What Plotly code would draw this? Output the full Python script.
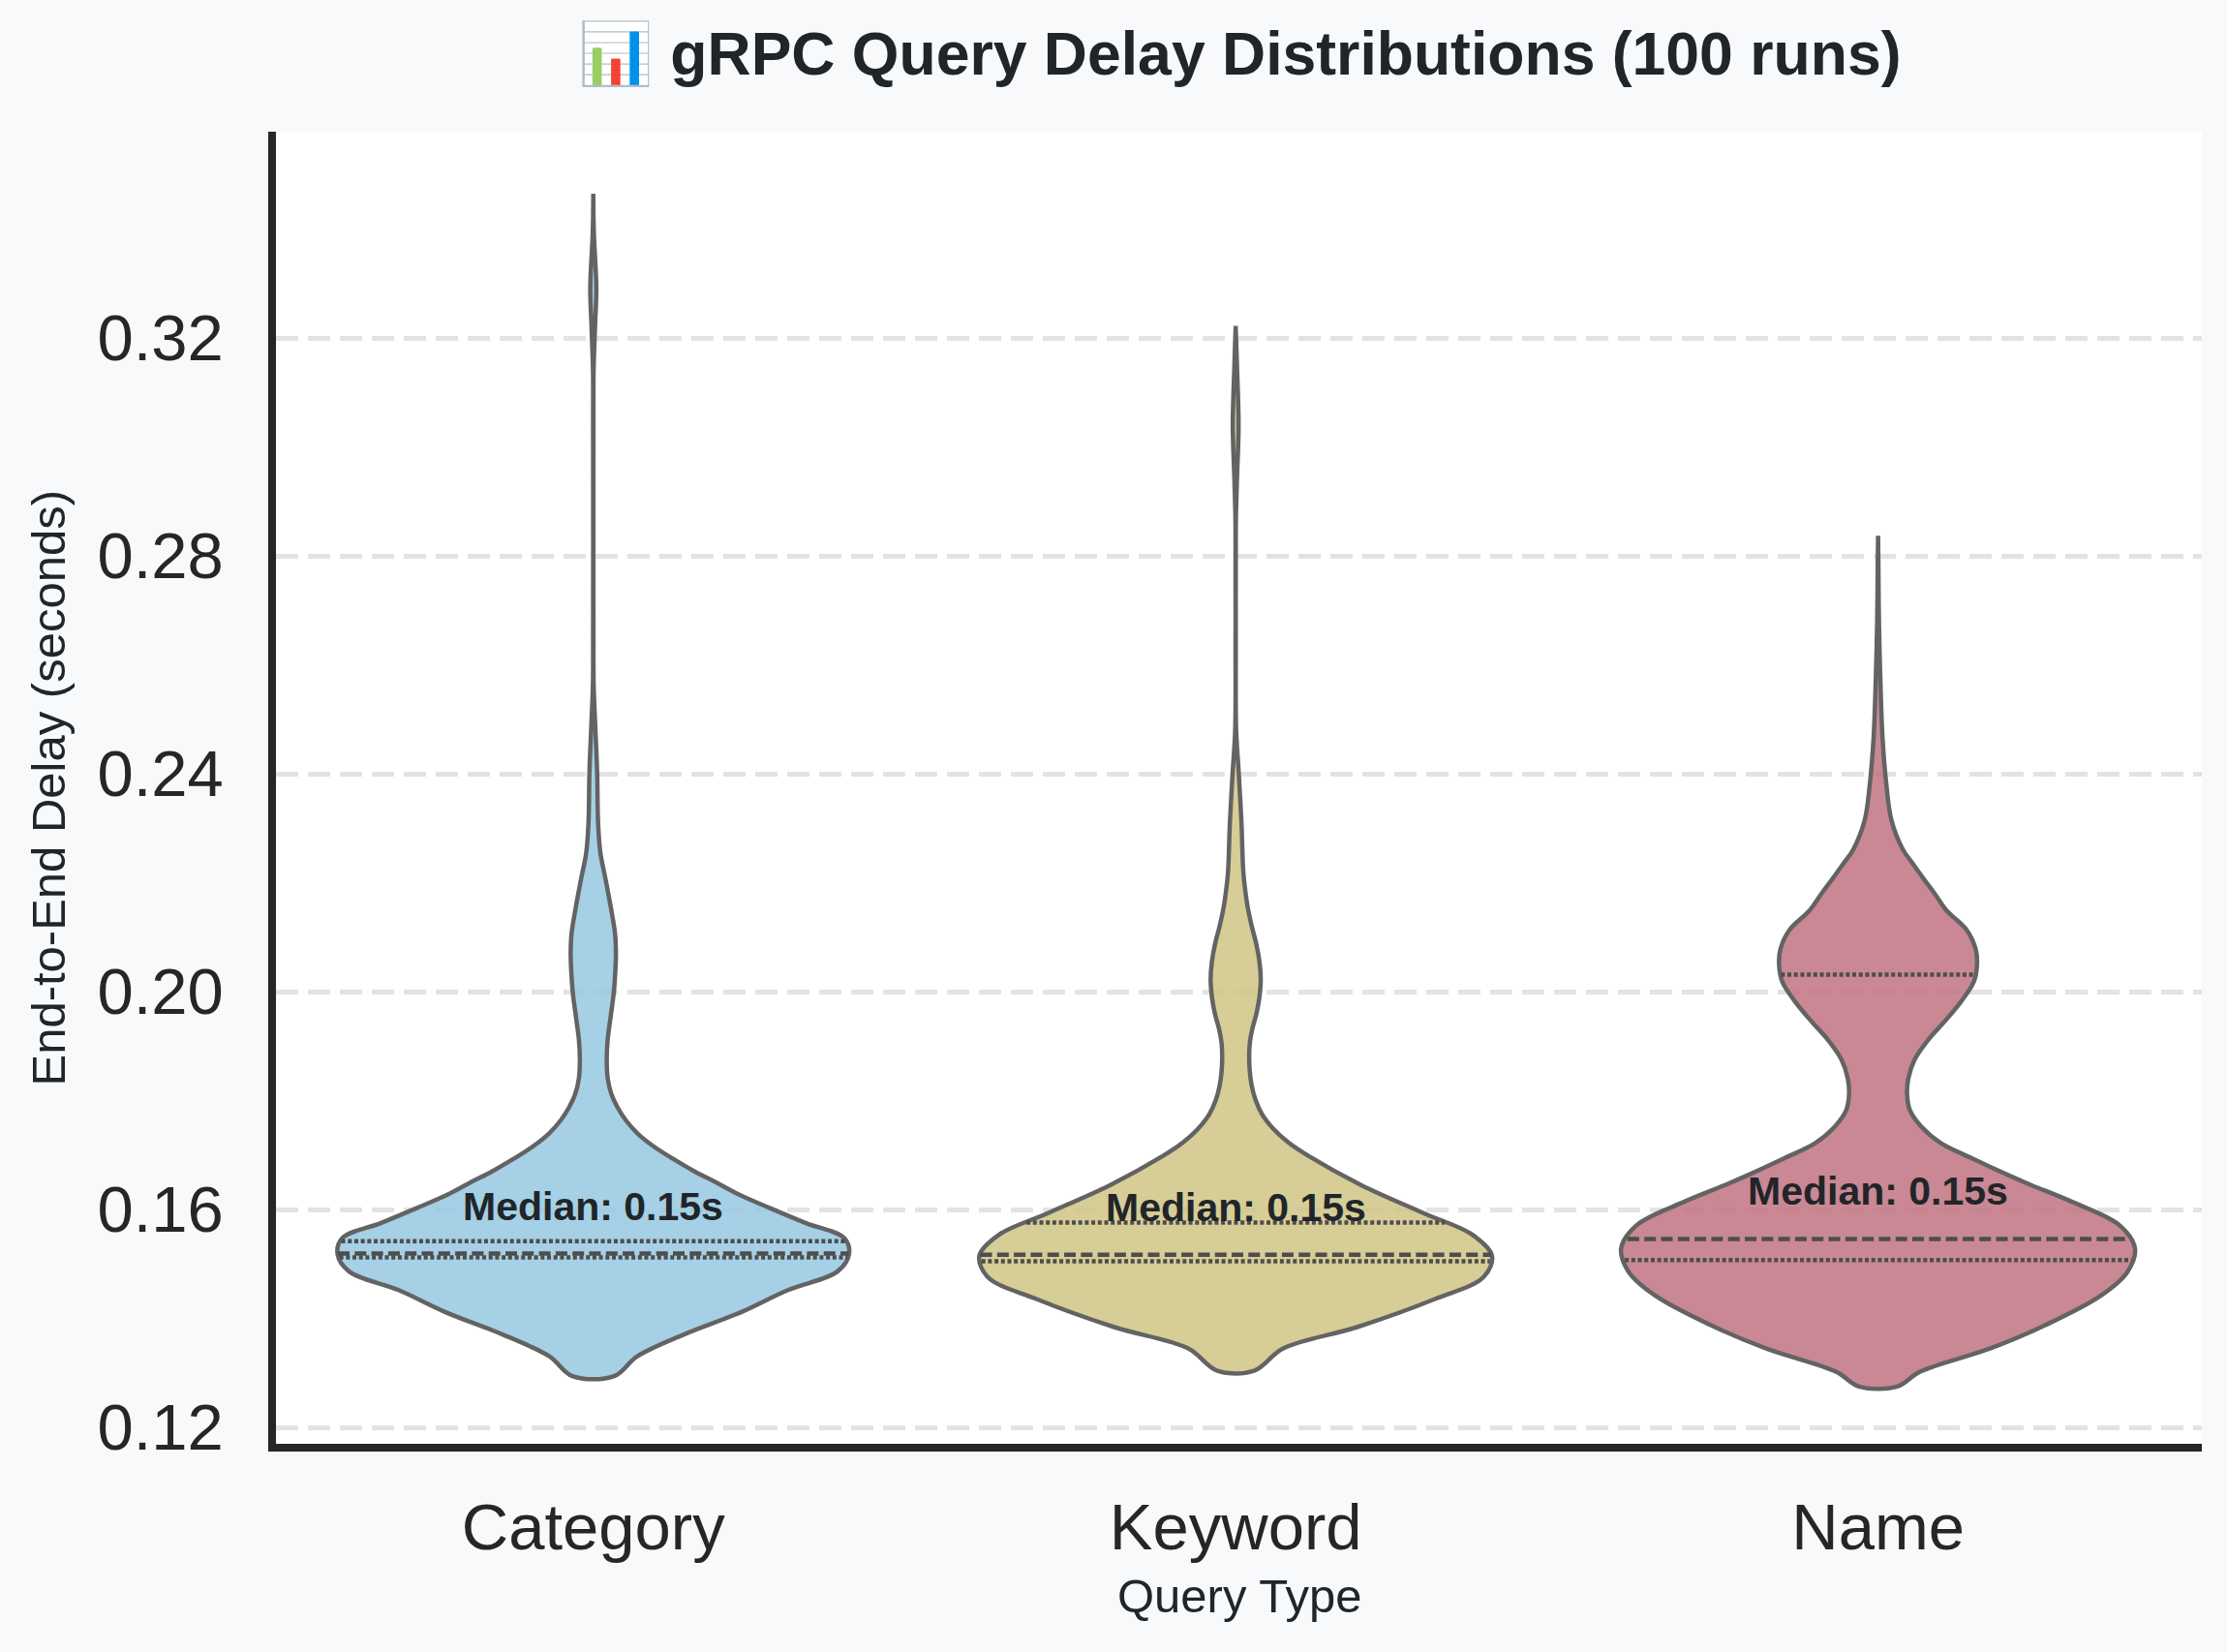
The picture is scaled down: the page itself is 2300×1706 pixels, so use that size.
import numpy as np
import plotly.graph_objects as go

# ---------------- data ----------------
categories = ["Category", "Keyword", "Name"]

# violin outlines: delay value (s) and half-width (category-axis units)
category_delay = [0.1294, 0.1330, 0.1371, 0.1411, 0.1452, 0.1486, 0.1517, 0.1547,
                  0.1575, 0.1602, 0.1629, 0.1651, 0.1669, 0.1693, 0.1716, 0.1740,
                  0.1764, 0.1788, 0.1811, 0.1841, 0.1876, 0.1912, 0.1953, 0.1998,
                  0.2042, 0.2070, 0.2105, 0.2153, 0.2207, 0.2255, 0.2309, 0.2403,
                  0.2482, 0.2562, 0.2641, 0.2760, 0.2918, 0.3038, 0.3141, 0.3220,
                  0.3292, 0.3395, 0.3465]
category_halfwidth = [0.0325, 0.068, 0.142, 0.229, 0.303, 0.380, 0.398, 0.391,
                      0.331, 0.276, 0.224, 0.189, 0.159, 0.124, 0.0937, 0.0686,
                      0.0505, 0.0375, 0.0284, 0.0224, 0.0209, 0.0224, 0.0269, 0.0319,
                      0.0345, 0.0352, 0.0340, 0.0275, 0.019, 0.011, 0.0075, 0.006,
                      0.0033, 0.0006, 0.0003, 0.0002, 0.0002, 0.0003, 0.0005, 0.0027,
                      0.0047, 0.0008, 0.0]

keyword_delay = [0.1304, 0.1345, 0.1384, 0.1436, 0.1476, 0.1515, 0.1554, 0.1593,
                 0.1645, 0.1697, 0.1723, 0.1749, 0.1775, 0.1801, 0.1827, 0.1853,
                 0.1880, 0.1906, 0.1932, 0.1958, 0.1990, 0.2023, 0.2055, 0.2088,
                 0.2120, 0.2153, 0.2185, 0.2218, 0.2310, 0.2401, 0.2479, 0.2635,
                 0.2800, 0.2870, 0.2940, 0.3039, 0.3150, 0.3222]
keyword_halfwidth = [0.0285, 0.074, 0.189, 0.311, 0.386, 0.399, 0.368, 0.293,
                     0.195, 0.115, 0.082, 0.058, 0.041, 0.031, 0.025, 0.022,
                     0.021, 0.022, 0.026, 0.032, 0.037, 0.039, 0.037, 0.032,
                     0.025, 0.019, 0.015, 0.012, 0.009, 0.0048, 0.0008, 0.0002,
                     0.0002, 0.0004, 0.002, 0.0045, 0.002, 0.0]

name_delay = [0.1275, 0.1302, 0.1345, 0.1388, 0.1442, 0.1485, 0.1528, 0.1571,
              0.1614, 0.1645, 0.1663, 0.1693, 0.1722, 0.1752, 0.1782, 0.1811,
              0.1841, 0.1876, 0.1912, 0.1947, 0.1983, 0.2018, 0.2048, 0.2078,
              0.2113, 0.2149, 0.2180, 0.2207, 0.2235, 0.2260, 0.2314, 0.2379,
              0.2465, 0.2573, 0.2680, 0.2788, 0.2837]
name_halfwidth = [0.0296, 0.065, 0.175, 0.261, 0.347, 0.388, 0.400, 0.376,
                  0.302, 0.238, 0.203, 0.148, 0.0975, 0.0674, 0.0497, 0.0452,
                  0.0472, 0.0573, 0.0784, 0.105, 0.130, 0.149, 0.154, 0.152,
                  0.138, 0.1066, 0.088, 0.071, 0.054, 0.039, 0.021, 0.013,
                  0.007, 0.0036, 0.0014, 0.0005, 0.0]

q1_values = [0.1512, 0.1505, 0.1507]
median_values = [0.1519, 0.1517, 0.1546]
q3_values = [0.1542, 0.1576, 0.2031]

y_ticks = [0.12, 0.16, 0.20, 0.24, 0.28, 0.32]

# ---------------- styles ----------------
fill_colors = ["rgba(149,200,225,0.85)", "rgba(208,196,132,0.85)", "rgba(191,115,128,0.85)"]
outline_color = "#636363"
inner_color = "#4d4d4d"
text_dark = "#212529"
font_family = "Liberation Sans, Arial, sans-serif"

W, H = 2300, 1706
L, R, T, B = 285, 26, 136, 215
plot_w = W - L - R
plot_h = H - T - B


def paper_x(px):
    return (px - L) / plot_w


def paper_y(py):
    return (H - B - py) / plot_h


fig = go.Figure()

outlines = [(category_delay, category_halfwidth),
            (keyword_delay, keyword_halfwidth),
            (name_delay, name_halfwidth)]

for i, (dl, hw) in enumerate(outlines):
    dl = np.asarray(dl)
    hw = np.asarray(hw)
    xs = np.concatenate([i - hw, (i + hw)[::-1], [i - hw[0]]])
    ys = np.concatenate([dl, dl[::-1], [dl[0]]])
    fig.add_trace(go.Scatter(
        x=xs, y=ys, mode="lines", fill="toself",
        fillcolor=fill_colors[i],
        line=dict(color=outline_color, width=4.5, shape="spline", smoothing=1.0),
        hoverinfo="skip", showlegend=False))

    # quartile lines
    for val, dash in [(q1_values[i], "4px,2.7px"), (median_values[i], "12px,5.3px"),
                      (q3_values[i], "4px,2.7px")]:
        w = float(np.interp(val, dl, hw))
        fig.add_trace(go.Scatter(
            x=[i - w, i + w], y=[val, val], mode="lines",
            line=dict(color=inner_color, width=4.5, dash=dash),
            hoverinfo="skip", showlegend=False))

    fig.add_annotation(
        x=i, y=median_values[i] + 0.0087, xref="x", yref="y",
        text=f"<b>Median: {median_values[i]:.2f}s</b>", showarrow=False,
        font=dict(family=font_family, size=41, color=text_dark),
        xanchor="center", yanchor="middle")

# title and axis titles
fig.add_annotation(
    x=0.5, y=paper_y(56), xref="paper", yref="paper",
    text="<b>📊 gRPC Query Delay Distributions (100 runs)</b>", showarrow=False,
    font=dict(family=font_family, size=62.5, color=text_dark),
    xanchor="center", yanchor="middle")
fig.add_annotation(
    x=0.5, y=paper_y(1648), xref="paper", yref="paper",
    text="Query Type", showarrow=False,
    font=dict(family=font_family, size=49, color=text_dark),
    xanchor="center", yanchor="middle")
fig.add_annotation(
    x=paper_x(49), y=0.5, xref="paper", yref="paper",
    text="End-to-End Delay (seconds)", showarrow=False, textangle=-90,
    font=dict(family=font_family, size=49, color=text_dark),
    xanchor="center", yanchor="middle")

fig.update_layout(
    width=W, height=H,
    margin=dict(l=L, r=R, t=T, b=B, pad=0),
    paper_bgcolor="#f8f9fa", plot_bgcolor="#ffffff",
    font=dict(family=font_family, color="#262626"),
    showlegend=False,
)

fig.update_xaxes(
    range=[-0.494, 2.504],
    tickvals=[0, 1, 2], ticktext=categories,
    tickfont=dict(family=font_family, size=67, color="#262626"),
    ticks="outside", ticklen=21, tickcolor="rgba(0,0,0,0)",
    showgrid=False, zeroline=False,
    showline=True, linecolor="#262626", linewidth=7.5,
)
fig.update_yaxes(
    range=[0.11698, 0.35787],
    tickvals=y_ticks, ticktext=[f"{v:.2f}" for v in y_ticks],
    tickfont=dict(family=font_family, size=67, color="#262626"),
    ticks="outside", ticklen=33, tickcolor="rgba(0,0,0,0)",
    showgrid=True, gridcolor="#e3e3e3", gridwidth=5, griddash="23px,10px",
    zeroline=False,
    showline=True, linecolor="#262626", linewidth=7.5,
)

fig.write_html("out.html")
